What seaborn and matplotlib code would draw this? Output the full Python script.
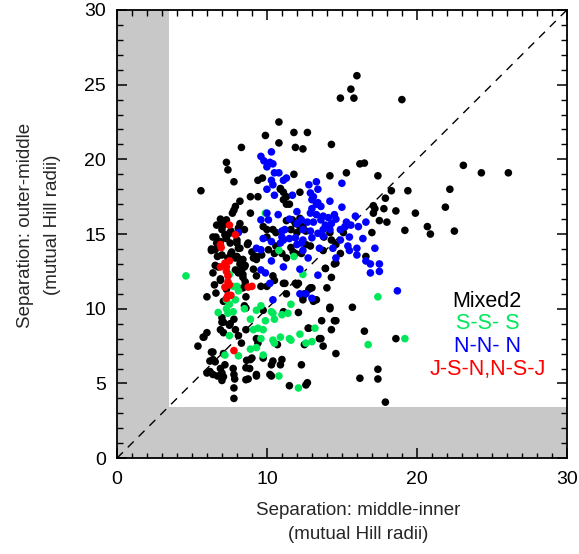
import numpy as np
import pandas as pd
import seaborn as sns
import matplotlib
matplotlib.use("Agg")
import matplotlib.pyplot as plt

# ---- data ----
mixed_x = [16.0, 15.6, 14.9, 15.8, 19.0, 10.8, 9.9, 11.8, 12.7, 10.8, 11.9, 12.4, 14.3, 8.3,
           7.3, 7.4, 7.8, 5.6, 9.4, 9.7, 11.8, 14.2, 15.3, 16.2, 16.5, 17.4, 23.1, 24.3, 26.1,
           18.3, 19.4, 22.2, 10.9, 11.1, 11.3, 12.2, 8.9, 9.4, 8.2,
           7.9, 7.8, 7.7, 8.9, 7.0, 7.3, 7.1, 8.1, 7.6, 11.1, 11.3, 11.7, 11.9, 12.2, 11.6,
           9.75, 10.0, 10.4, 17.9, 17.1, 17.8, 18.6, 17.1, 19.9, 21.9, 18.0, 19.2, 20.7, 20.9,
           22.5, 17.0, 14.2,
           6.6, 7.2, 7.3, 6.3, 6.55, 8.0, 8.1, 8.7, 6.9, 7.4, 7.6, 8.0, 8.2, 8.4, 6.7, 7.0,
           10.6, 12.0, 10.0, 10.1, 10.5, 10.6, 11.6, 11.9, 12.6, 12.9, 13.8, 14.3, 14.6, 14.9,
           14.6, 15.1, 16.6, 9.1, 9.3,
           8.5, 8.3, 7.9, 8.4, 6.9, 6.5, 6.6, 6.0, 7.3, 8.6, 8.4, 9.6, 10.0, 10.4, 10.5, 11.1,
           11.3, 12.0, 11.9, 12.8, 13.0, 12.4, 14.0, 14.3, 13.9, 9.1, 9.3,
           8.5, 8.6, 7.0, 7.0, 7.8, 7.5, 7.9, 8.6, 12.1, 13.1, 14.2, 15.7, 14.6, 12.8, 16.5,
           11.1, 9.75, 7.1,
           6.0, 5.8, 5.4, 6.9, 7.1, 9.3, 9.4, 6.3, 7.1, 6.2, 6.4, 7.2, 8.9, 9.0, 10.3, 10.4,
           11.0, 10.9, 12.3, 10.7, 13.6, 14.6, 18.6,
           8.6, 6.0, 6.4, 6.7, 7.0, 7.8, 8.6, 9.3, 10.3, 7.8, 7.8, 11.5, 12.6, 12.7, 16.2,
           17.4, 17.4, 17.9,
           6.9, 6.65, 7.0, 7.5, 8.2, 8.5, 6.4, 6.65, 7.3, 7.55, 8.0, 8.2, 7.65, 9.0, 9.3, 9.65,
           6.55, 6.75, 7.9, 8.2, 8.3, 8.55, 6.4, 6.9, 8.1, 8.4, 8.55, 8.75, 6.3,
           10.9, 11.5, 17.2, 17.5, 11.3, 12.2, 12.4, 12.6,
           11.0, 11.3, 11.75, 12.3, 13.75, 14.5, 13.9, 11.2, 12.1, 12.9, 12.5, 12.4, 13.3, 14.2,
           13.65, 14.5, 12.75, 14.3, 13.5, 13.75, 12.5,
           7.1, 7.55, 5.75, 8.1, 8.3, 6.4, 6.55, 6.9, 6.2, 7.1, 7.0, 7.75, 7.85, 8.65, 8.85,
           8.75, 9.3, 9.75, 10.2]
mixed_y = [25.6, 24.7, 24.1, 24.1, 24.0, 22.5, 21.6, 21.8, 21.8, 21.1, 20.8, 20.7, 21.0, 20.8,
           19.8, 19.3, 18.5, 17.9, 18.6, 18.75, 19.0, 18.9, 19.1, 19.7, 19.75, 18.9, 19.6, 19.1, 19.1,
           17.9, 17.9, 18.0, 18.0, 17.8, 17.5, 17.8, 17.5, 17.5, 17.2,
           16.85, 16.6, 16.4, 16.4, 15.85, 15.95, 15.6, 15.4, 15.2, 17.3, 17.0, 15.95, 15.7, 15.5, 15.3,
           15.5, 15.3, 15.3, 17.4, 16.9, 16.7, 16.55, 16.4, 16.4, 16.8, 15.8, 15.25, 15.5, 15.0,
           15.2, 15.1, 15.1,
           14.8, 14.95, 14.8, 14.0, 13.95, 14.4, 14.05, 14.3, 14.5, 13.4, 13.7, 13.5, 13.3, 13.3, 13.5, 13.6,
           15.1, 15.1, 14.8, 13.95, 13.7, 14.2, 14.1, 13.7, 14.3, 14.2, 14.8, 14.6, 14.3, 13.7,
           13.05, 15.1, 13.5, 13.4, 13.3,
           12.8, 12.6, 12.6, 12.3, 12.0, 11.6, 11.05, 10.8, 11.3, 10.8, 11.4, 11.5, 11.5, 12.2, 11.9, 11.7,
           11.0, 11.6, 11.7, 11.3, 11.4, 10.8, 11.4, 12.1, 12.7, 12.65, 12.2,
           10.2, 10.05, 9.4, 9.1, 9.3, 8.9, 8.6, 8.6, 9.75, 10.5, 10.1, 10.1, 9.2, 8.7, 8.5,
           9.8, 9.9, 10.5,
           8.4, 8.1, 7.5, 8.6, 8.4, 8.0, 7.7, 7.1, 7.0, 6.5, 6.6, 6.25, 6.6, 6.7, 6.25, 6.5,
           6.6, 6.25, 6.25, 7.6, 8.0, 7.0, 8.0,
           6.05, 5.7, 5.6, 5.5, 5.7, 5.6, 5.25, 5.5, 5.5, 4.7, 4.0, 4.85, 4.9, 5.05, 5.35,
           5.95, 5.3, 3.75,
           16.0, 15.6, 15.3, 15.05, 15.7, 15.3, 14.8, 14.4, 14.7, 14.4, 14.6, 14.05, 13.8, 13.8, 13.5, 13.6,
           12.9, 12.8, 13.4, 13.0, 12.6, 12.9, 12.4, 11.9, 12.4, 12.1, 11.8, 14.4, 13.9,
           18.05, 17.0, 16.7, 15.9, 15.9, 16.05, 15.5, 15.2,
           13.7, 13.4, 13.8, 13.7, 13.9, 13.0, 12.7, 11.7, 11.7, 11.4, 11.0, 10.6, 10.6, 10.0,
           9.2, 9.2, 8.7, 8.6, 8.0, 7.5, 7.6,
           9.1, 9.0, 8.1, 8.2, 7.7, 7.1, 6.45, 6.0, 5.8, 5.45, 5.2, 6.0, 5.3, 6.55, 6.0,
           5.3, 5.6, 6.7, 5.6]

sss_x = [4.6, 9.9, 10.8, 11.8, 7.5, 7.75, 8.0, 8.1, 12.4, 17.4, 7.3, 7.9, 7.5, 7.3, 7.4, 7.75,
         6.75, 8.5, 9.3, 9.6, 10.3, 10.4, 11.0, 11.4, 11.6, 8.9, 9.9, 10.5, 9.1, 9.4, 9.75, 13.2,
         7.5, 9.6, 10.4, 10.5, 10.9, 11.5, 11.6, 12.2, 12.6, 13.0, 16.75, 19.2, 8.9, 9.3, 9.75,
         7.2, 8.1, 10.8, 12.1]
sss_y = [12.2, 16.4, 13.9, 13.5, 12.3, 11.5, 11.5, 11.2, 12.3, 10.8, 10.6, 10.6, 10.3, 10.0, 9.7, 9.8,
         9.75, 10.0, 9.9, 10.2, 9.8, 9.7, 9.6, 9.7, 10.3, 9.3, 9.2, 9.3, 8.6, 8.7, 8.6, 8.7,
         8.2, 8.0, 7.9, 7.7, 8.1, 8.0, 7.9, 8.3, 7.7, 7.8, 7.6, 8.0, 7.3, 7.4, 6.9,
         6.9, 6.85, 5.5, 4.7]

nnn_x = [9.6, 10.3, 9.8, 10.2, 10.4, 10.0, 10.5, 10.8, 10.3, 10.0, 10.4, 11.3, 11.1, 12.8, 13.3,
         15.0, 10.5, 11.7, 12.9, 13.1, 13.4, 13.0, 13.4,
         14.2, 13.3, 13.0, 13.6, 12.9, 13.3, 13.75, 14.1, 14.5, 14.6, 14.3, 13.9, 13.6, 13.1, 12.7,
         12.3, 12.0, 12.0, 11.5, 10.75, 10.0, 9.6, 10.1, 15.0, 15.9, 15.3, 15.6, 16.1, 16.6, 15.2,
         14.9, 14.2, 13.75, 12.9, 12.4, 11.0, 11.2,
         9.75, 10.3, 11.0, 11.1, 10.9, 11.5, 11.9, 12.4, 13.0, 13.4, 13.75, 14.9, 15.5, 16.4, 15.4,
         16.0, 15.5, 16.0, 17.2, 9.3, 9.6, 12.0, 12.3, 13.5, 14.4, 14.6, 12.75, 12.4, 10.3, 11.1,
         16.6, 16.9, 17.5, 8.1,
         9.6, 9.9, 12.2, 13.4, 10.2, 12.2, 12.6, 13.0, 16.9, 17.5, 18.7, 10.4]
nnn_y = [20.2, 20.5, 19.9, 19.8, 19.7, 19.5, 19.1, 19.1, 18.6, 18.0, 18.3, 18.75, 18.6, 18.3, 18.5,
         18.4, 17.6, 17.6, 17.75, 17.5, 18.0, 17.3, 17.1,
         17.2, 17.0, 16.7, 16.85, 16.4, 16.3, 16.2, 16.1, 16.3, 16.0, 15.7, 15.6, 15.95, 15.8, 15.8,
         15.95, 15.7, 16.5, 16.0, 16.3, 16.4, 15.95, 15.95, 16.8, 16.2, 15.8, 15.6, 15.5, 15.8, 15.5,
         15.3, 15.3, 15.3, 15.2, 15.3, 15.2, 15.3,
         14.7, 14.5, 14.8, 14.6, 14.4, 14.7, 14.75, 14.6, 14.75, 15.05, 14.85, 14.6, 14.8, 14.7, 14.2,
         14.05, 13.9, 13.6, 14.05, 14.05, 13.95, 14.3, 14.4, 14.05, 14.05, 13.4, 13.4, 13.9, 13.2, 12.8,
         13.2, 13.0, 13.0, 15.1,
         12.6, 12.4, 12.65, 12.25, 11.7, 11.0, 11.0, 10.7, 12.4, 12.5, 11.2, 10.6]

jsn_x = [7.5, 7.9, 6.9, 6.95, 7.5, 7.2, 6.9, 7.3, 7.3, 7.4, 7.4, 7.2, 7.5, 8.75, 9.0, 7.4, 7.3, 7.6, 7.8]
jsn_y = [15.6, 14.95, 14.3, 14.1, 13.2, 13.05, 12.8, 12.8, 12.5, 12.2, 11.8, 11.45, 11.6, 11.45, 11.5,
         10.9, 10.7, 10.9, 7.2]

groups = ["Mixed2", "S-S- S", "N-N- N", "J-S-N,N-S-J"]
colors = ["#000000", "#00e85a", "#0000ff", "#ff0000"]

x_ticks = [0, 10, 20, 30]
y_ticks = [0, 5, 10, 15, 20, 25, 30]
minor_step = 1
excluded_limit = 3.45

df = pd.concat([
    pd.DataFrame({"x": mixed_x, "y": mixed_y, "group": groups[0]}),
    pd.DataFrame({"x": sss_x, "y": sss_y, "group": groups[1]}),
    pd.DataFrame({"x": nnn_x, "y": nnn_y, "group": groups[2]}),
    pd.DataFrame({"x": jsn_x, "y": jsn_y, "group": groups[3]}),
], ignore_index=True)

sns.set_style("white")
plt.rcParams.update({
    "font.family": ["Liberation Sans", "DejaVu Sans"],
    "axes.axisbelow": False,
    "xtick.direction": "in", "ytick.direction": "in",
    "xtick.major.size": 0, "ytick.major.size": 0,
    "xtick.minor.size": 0, "ytick.minor.size": 0,
    "xtick.color": "black", "ytick.color": "black",
})

fig = plt.figure(figsize=(5.79, 5.54), dpi=100)
ax = fig.add_axes([0.202, 0.173, 0.777, 0.809])

ax.axvspan(0, excluded_limit, color="#c8c8c8", lw=0, zorder=0)
ax.axhspan(0, excluded_limit, color="#c8c8c8", lw=0, zorder=0)
ax.plot([0, 30], [0, 30], color="black", lw=1.0, ls=(0, (6, 5)), zorder=1)

sns.scatterplot(data=df, x="x", y="y", hue="group", hue_order=groups,
                palette=dict(zip(groups, colors)), s=30, linewidth=0,
                legend=False, ax=ax, zorder=2)

ax.set_xlim(0, 30)
ax.set_ylim(0, 30)
ax.set_xticks(x_ticks)
ax.set_yticks(y_ticks)
ax.tick_params(axis="both", which="major", labelsize=14, labelcolor="black")
ax.tick_params(axis="x", which="major", pad=9)
ax.tick_params(axis="y", which="major", pad=8)
for sp in ax.spines.values():
    sp.set_linewidth(1.3)
    sp.set_color("black")

# inward tick marks on all four sides, drawn as short data-space segments
x0, x1 = ax.get_xlim()
y0, y1 = ax.get_ylim()
ax_w_px = fig.get_figwidth() * fig.dpi * 0.777
ax_h_px = fig.get_figheight() * fig.dpi * 0.809
pt_to_px = fig.dpi / 72.0
major_len_x = 7 * pt_to_px / ax_w_px * (x1 - x0)   # horizontal length (y-axis ticks)
minor_len_x = 4 * pt_to_px / ax_w_px * (x1 - x0)
major_len_y = 7 * pt_to_px / ax_h_px * (y1 - y0)   # vertical length (x-axis ticks)
minor_len_y = 4 * pt_to_px / ax_h_px * (y1 - y0)

x_minor = [v for v in np.arange(x0, x1 + 0.001, minor_step) if v not in x_ticks]
y_minor = [v for v in np.arange(y0, y1 + 0.001, minor_step) if v not in y_ticks]

for locs, L, lw in ((x_ticks, major_len_y, 1.1), (x_minor, minor_len_y, 1.0)):
    for v in locs:
        ax.plot([v, v], [y0, y0 + L], color="black", lw=lw, zorder=3, clip_on=False,
                solid_capstyle="butt")
        ax.plot([v, v], [y1 - L, y1], color="black", lw=lw, zorder=3, clip_on=False,
                solid_capstyle="butt")
for locs, L, lw in ((y_ticks, major_len_x, 1.1), (y_minor, minor_len_x, 1.0)):
    for v in locs:
        ax.plot([x0, x0 + L], [v, v], color="black", lw=lw, zorder=3, clip_on=False,
                solid_capstyle="butt")
        ax.plot([x1 - L, x1], [v, v], color="black", lw=lw, zorder=3, clip_on=False,
                solid_capstyle="butt")
ax.set_xlim(x0, x1)
ax.set_ylim(y0, y1)

ax.set_xlabel("Separation: middle-inner\n(mutual Hill radii)", fontsize=13.5, linespacing=1.5)
ax.set_ylabel("Separation: outer-middle\n(mutual Hill radii)", fontsize=13.5, linespacing=1.75)
ax.xaxis.set_label_coords(0.536, -0.098)
ax.yaxis.set_label_coords(-0.124, 0.52)

legend_y = [10.5, 9.0, 7.5, 5.95]
for g, c, yy in zip(groups, colors, legend_y):
    ax.text(24.7, yy, g, color=c, fontsize=15.5, ha="center", va="center")

fig.savefig("out.png", dpi=100)
